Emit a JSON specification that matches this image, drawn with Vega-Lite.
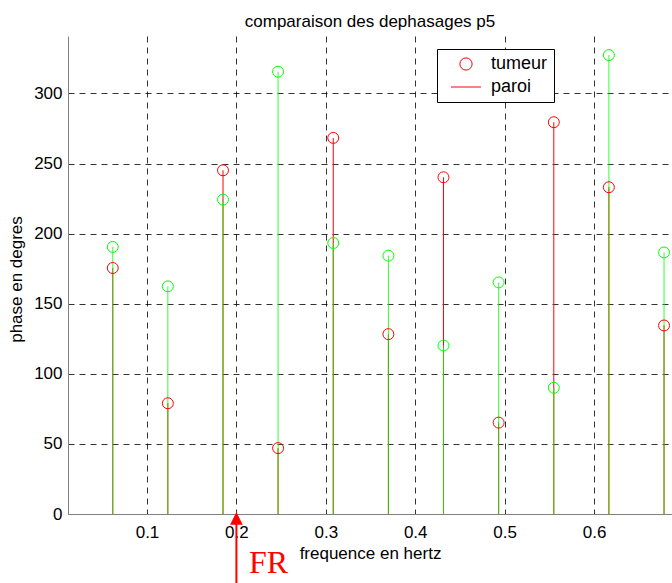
{
  "$schema": "https://vega.github.io/schema/vega-lite/v6.json",
  "autosize": {"type": "none"},
  "padding": {"left": 68, "top": 36, "right": 0, "bottom": 69},
  "width": 604,
  "height": 478,
  "background": "white",
  "title": {"text": "comparaison des dephasages p5", "fontSize": 17, "font": "Liberation Sans", "fontWeight": "normal", "color": "#000", "anchor": "middle", "baseline": "alphabetic", "offset": -8},
  "datasets": {
    "phases": [
      {"f": 0.0617, "serie": "tumeur", "phase": 175.5},
      {"f": 0.0617, "serie": "paroi", "phase": 190.5},
      {"f": 0.1233, "serie": "tumeur", "phase": 79},
      {"f": 0.1233, "serie": "paroi", "phase": 162.4},
      {"f": 0.185, "serie": "tumeur", "phase": 245.2},
      {"f": 0.185, "serie": "paroi", "phase": 224.3},
      {"f": 0.2466, "serie": "tumeur", "phase": 47},
      {"f": 0.2466, "serie": "paroi", "phase": 315.5},
      {"f": 0.3083, "serie": "tumeur", "phase": 268.3},
      {"f": 0.3083, "serie": "paroi", "phase": 193.3},
      {"f": 0.37, "serie": "tumeur", "phase": 128.3},
      {"f": 0.37, "serie": "paroi", "phase": 184.3},
      {"f": 0.4316, "serie": "tumeur", "phase": 240.2},
      {"f": 0.4316, "serie": "paroi", "phase": 120.2},
      {"f": 0.4933, "serie": "tumeur", "phase": 65.2},
      {"f": 0.4933, "serie": "paroi", "phase": 165.2},
      {"f": 0.555, "serie": "tumeur", "phase": 279.5},
      {"f": 0.555, "serie": "paroi", "phase": 90},
      {"f": 0.6166, "serie": "tumeur", "phase": 233.1},
      {"f": 0.6166, "serie": "paroi", "phase": 327.4},
      {"f": 0.6783, "serie": "tumeur", "phase": 134.5},
      {"f": 0.6783, "serie": "paroi", "phase": 186.6}
    ],
    "legende": [{"legende": "tumeur"}, {"legende": "paroi"}],
    "fleche": [{"f": 0.2, "phase": -50, "phase2": -5}],
    "pointe": [{"f": 0.2, "phase": -3.1}],
    "note": [{"f": 0.2141, "phase": -41.9, "texte": "FR"}]
  },
  "layer": [
    {
      "data": {"name": "phases"},
      "transform": [{"filter": "datum.serie === 'tumeur'"}],
      "mark": {"type": "rule", "color": "#ff0000", "strokeWidth": 1},
      "encoding": {
        "x": {"field": "f", "type": "quantitative",
          "scale": {"domain": [0.01163, 0.6872], "nice": false, "zero": false},
          "axis": {"values": [0.1, 0.2, 0.3, 0.4, 0.5, 0.6], "format": ".1f", "title": "frequence en hertz",
            "titleY": 44, "titleBaseline": "alphabetic", "labelPadding": 10, "labelFlush": false}},
        "y": {"field": "phase", "type": "quantitative",
          "scale": {"domain": [0, 341], "nice": false},
          "axis": {"values": [0, 50, 100, 150, 200, 250, 300], "title": "phase en degres",
            "titleX": -47, "titleY": 243, "titleAlign": "center", "titleBaseline": "alphabetic", "labelPadding": 6}},
        "y2": {"datum": 0}
      }
    },
    {
      "data": {"name": "phases"},
      "transform": [{"filter": "datum.serie === 'paroi'"}],
      "mark": {"type": "rule", "color": "#00ff00", "strokeWidth": 1, "opacity": 0.8},
      "encoding": {
        "x": {"field": "f", "type": "quantitative"},
        "y": {"field": "phase", "type": "quantitative"},
        "y2": {"datum": 0}
      }
    },
    {
      "data": {"name": "phases"},
      "transform": [{"filter": "datum.serie === 'tumeur'"}],
      "mark": {"type": "point", "filled": false, "size": 120, "strokeWidth": 1, "opacity": 1, "color": "#ff0000"},
      "encoding": {
        "x": {"field": "f", "type": "quantitative"},
        "y": {"field": "phase", "type": "quantitative"}
      }
    },
    {
      "data": {"name": "phases"},
      "transform": [{"filter": "datum.serie === 'paroi'"}],
      "mark": {"type": "point", "filled": false, "size": 120, "strokeWidth": 1, "opacity": 1, "color": "#00ff00"},
      "encoding": {
        "x": {"field": "f", "type": "quantitative"},
        "y": {"field": "phase", "type": "quantitative"}
      }
    },
    {
      "data": {"name": "legende"},
      "mark": {"type": "point", "filled": false, "color": "#ff0000", "size": 150, "strokeWidth": 1},
      "encoding": {
        "x": {"datum": 0.3},
        "y": {"datum": -500},
        "shape": {"field": "legende", "type": "nominal",
          "scale": {"domain": ["tumeur", "paroi"], "range": ["circle", "M-2.45,0H2.45"]},
          "legend": {"orient": "none", "legendX": 369, "legendY": 13, "title": null, "padding": 6,
            "strokeColor": "#000", "fillColor": "#fff", "labelFontSize": 18, "labelFont": "Liberation Sans",
            "labelColor": "#000", "symbolOffset": 14, "labelOffset": 16, "rowPadding": 5, "symbolSize": 150,
            "symbolStrokeColor": "#ff0000", "symbolStrokeWidth": 1, "symbolOpacity": 1, "symbolFillColor": "transparent"}}
      }
    },
    {
      "data": {"name": "fleche"},
      "mark": {"type": "rule", "color": "#ff0000", "strokeWidth": 2},
      "encoding": {
        "x": {"field": "f", "type": "quantitative"},
        "y": {"field": "phase", "type": "quantitative"},
        "y2": {"field": "phase2"}
      }
    },
    {
      "data": {"name": "pointe"},
      "mark": {"type": "point", "shape": "M0,-1L-1,1L1,1Z", "filled": true, "color": "#ff0000", "size": 160, "opacity": 1},
      "encoding": {
        "x": {"field": "f", "type": "quantitative"},
        "y": {"field": "phase", "type": "quantitative"}
      }
    },
    {
      "data": {"name": "note"},
      "mark": {"type": "text", "font": "Liberation Serif", "fontSize": 32, "color": "#ff0000", "align": "left", "baseline": "alphabetic"},
      "encoding": {
        "x": {"field": "f", "type": "quantitative"},
        "y": {"field": "phase", "type": "quantitative"},
        "text": {"field": "texte"}
      }
    }
  ],
  "config": {
    "view": {"stroke": null},
    "font": "Liberation Sans",
    "axis": {
      "grid": true, "gridDash": [6, 5], "gridColor": "#000", "gridOpacity": 0.8, "gridWidth": 1,
      "ticks": false, "tickSize": 0,
      "domainColor": "#808080", "domainWidth": 1,
      "labelFont": "Liberation Sans", "labelFontSize": 17, "labelColor": "#000",
      "titleFont": "Liberation Sans", "titleFontSize": 17, "titleFontWeight": "normal", "titleColor": "#000"
    }
  }
}
